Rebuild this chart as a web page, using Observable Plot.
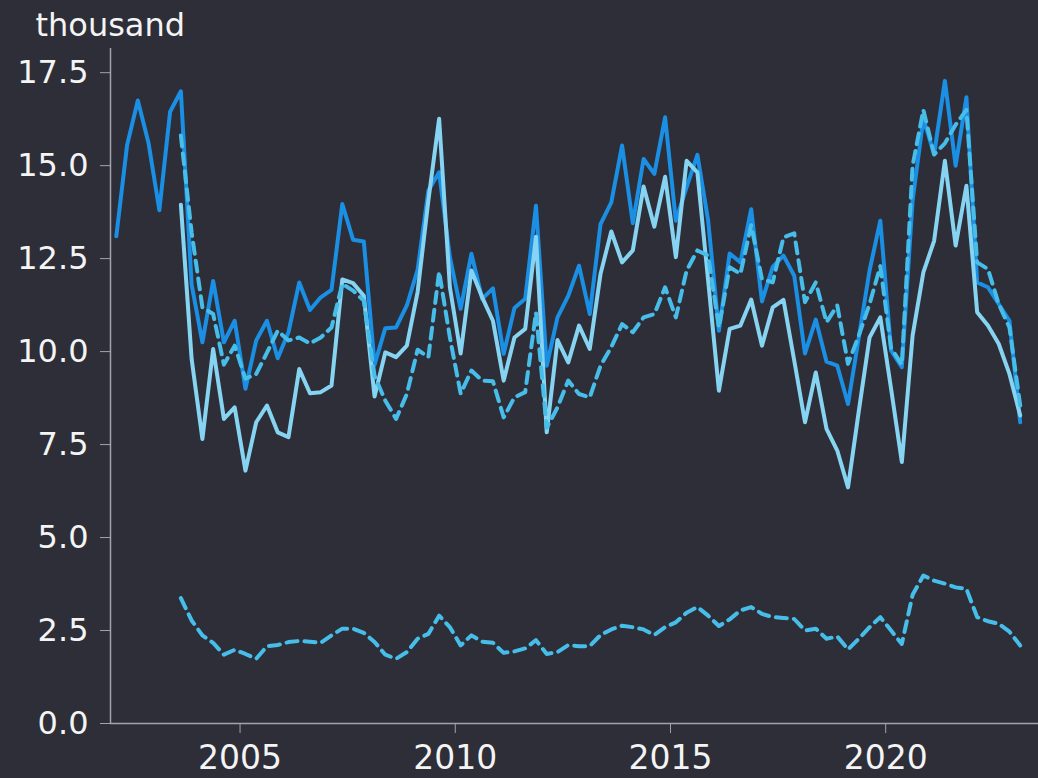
<!DOCTYPE html>
<html>
<head>
<meta charset="utf-8">
<script src="https://cdn.jsdelivr.net/npm/d3@7"></script>
<script src="https://cdn.jsdelivr.net/npm/@observablehq/plot@0.6"></script>
<style>
  html, body { margin: 0; padding: 0; background: #2d2e38; }
  #chart { width: 1038px; height: 778px; }
</style>
</head>
<body>
<div id="chart"></div>
<script>
// ---- data ----
const START_YEAR = 2002;          // first quarter: 2002 Q1
const N_QUARTERS = 85;            // 2002 Q1 .. 2023 Q1
const OTHER_START = 6;            // other series begin at 2003 Q3

const seriesA = [13.1, 15.55, 16.75, 15.6, 13.8, 16.45, 17.0, 11.8, 10.25, 11.9,
  10.25, 10.83, 9.0, 10.3, 10.83, 9.82, 10.52, 11.86, 11.12, 11.46,
  11.66, 13.97, 13.01, 12.96, 9.65, 10.63, 10.65, 11.24, 12.2, 14.33,
  14.82, 12.54, 11.15, 12.63, 11.42, 11.7, 9.94, 11.17, 11.42, 13.92,
  9.62, 10.92, 11.5, 12.31, 11.01, 13.43, 14.01, 15.54, 13.45, 15.18,
  14.78, 16.3, 13.52, 14.42, 15.29, 13.52, 10.56, 12.64, 12.4, 13.83,
  11.35, 12.28, 12.58, 12.04, 9.95, 10.86, 9.73, 9.62, 8.59, 10.38,
  12.18, 13.52, 10.03, 9.58, 14.06, 16.26, 15.31, 17.28, 15.0, 16.84,
  11.86, 11.73, 11.28, 10.83, 8.1];

const seriesB = [13.95, 9.8, 7.65, 10.07,
  8.19, 8.5, 6.8, 8.1, 8.55, 7.83, 7.7, 9.53, 8.88, 8.91,
  9.09, 11.94, 11.84, 11.5, 8.79, 9.98, 9.85, 10.16, 11.6, 14.06,
  16.26, 11.73, 9.95, 12.18, 11.46, 10.83, 9.22, 10.38, 10.61, 13.09,
  7.83, 10.31, 9.71, 10.7, 10.07, 12.09, 13.23, 12.4, 12.72, 14.44,
  13.36, 14.7, 12.54, 15.13, 14.82, 11.91, 8.95, 10.61, 10.7, 11.4,
  10.16, 11.19, 11.39, 9.76, 8.1, 9.44, 7.92, 7.34, 6.35, 8.4,
  10.38, 10.92, 9.0, 7.03, 10.43, 12.13, 12.98, 15.13, 12.85, 14.46,
  11.06, 10.7, 10.21, 9.4, 8.28];

const seriesC = [15.81, 13.2, 11.19, 11.01,
  9.65, 10.16, 9.27, 9.4, 9.97, 10.56, 10.3, 10.38, 10.22, 10.38,
  10.65, 11.82, 11.64, 11.37, 9.35, 8.68, 8.19, 8.86, 10.05, 9.85,
  12.15, 10.38, 8.87, 9.49, 9.22, 9.2, 8.23, 8.77, 8.91, 11.05,
  7.95, 8.5, 9.22, 8.86, 8.77, 9.62, 10.12, 10.74, 10.52, 10.92,
  11.01, 11.73, 10.92, 12.18, 12.72, 12.58, 10.65, 12.27, 12.09, 13.4,
  11.95, 11.86, 13.07, 13.18, 11.33, 11.86, 10.79, 11.24, 9.67, 10.43,
  11.28, 12.3, 10.1, 9.65, 15.0, 16.5, 15.3, 15.6, 16.1, 16.5,
  12.4, 12.22, 11.28, 10.65, 8.55];

const seriesD = [3.37, 2.77, 2.37, 2.17,
  1.85, 1.98, 1.87, 1.74, 2.08, 2.11, 2.19, 2.22, 2.2, 2.17,
  2.37, 2.55, 2.55, 2.44, 2.19, 1.85, 1.74, 1.92, 2.28, 2.41,
  2.9, 2.59, 2.1, 2.37, 2.2, 2.17, 1.9, 1.94, 2.02, 2.24,
  1.87, 1.92, 2.11, 2.08, 2.08, 2.38, 2.53, 2.63, 2.59, 2.53,
  2.38, 2.59, 2.72, 2.98, 3.13, 2.9, 2.62, 2.8, 3.04, 3.13,
  2.95, 2.86, 2.84, 2.81, 2.5, 2.55, 2.28, 2.34, 1.99, 2.28,
  2.59, 2.86, 2.5, 2.14, 3.46, 3.98, 3.84, 3.76, 3.66, 3.62,
  2.86, 2.75, 2.68, 2.47, 2.1];

const xTicks = [2005, 2010, 2015, 2020];
const yTicks = [0, 2.5, 5, 7.5, 10, 12.5, 15, 17.5];
const unitLabel = ["thousand"];

// ---- styling ----
const BG = "#2d2e38";
const AXIS = "#a3a3a8";
const TEXT = "#f4f4f4";
const C_DARK = "#1a8fe3";
const C_LIGHT = "#86d4f1";
const C_DASH = "#47bde9";
const X_DOMAIN = [2001.99, 2023.55];
const Y_DOMAIN = [0, 18.15];

// quarter mid-points as fractional years
const quarterX = Array.from({length: N_QUARTERS}, (_, i) => START_YEAR + Math.floor(i / 4) + (i % 4) / 4 + 0.125);
const toRows = (vals, offset) => vals.map((v, j) => ({x: quarterX[offset + j], y: v}));

const rowsA = toRows(seriesA, 0);
const rowsB = toRows(seriesB, OTHER_START);
const rowsC = toRows(seriesC, OTHER_START);
const rowsD = toRows(seriesD, OTHER_START);

const FONT = "'DejaVu Sans', sans-serif";

const chart = Plot.plot({
  width: 1038,
  height: 778,
  marginLeft: 110,
  marginRight: 0,
  marginTop: 48,
  marginBottom: 55,
  style: {background: BG, color: TEXT, fontFamily: FONT, fontSize: "32px"},
  x: {domain: X_DOMAIN},
  y: {domain: Y_DOMAIN},
  marks: [
    Plot.axisY({ticks: yTicks, tickFormat: ".1f", tickSize: 10, tickPadding: 12,
      stroke: AXIS, fill: TEXT, fontSize: 32, label: null}),
    Plot.axisX({ticks: xTicks, tickFormat: "d", tickSize: 10, tickPadding: 12,
      stroke: AXIS, fill: TEXT, fontSize: 33, label: null}),
    Plot.ruleY([Y_DOMAIN[0]], {stroke: AXIS, strokeWidth: 1.5}),
    Plot.ruleX([X_DOMAIN[0]], {stroke: AXIS, strokeWidth: 1.5}),
    Plot.text(unitLabel, {frameAnchor: "top-left", dx: -75, dy: -13, lineAnchor: "bottom",
      textAnchor: "start", fill: TEXT, fontSize: 32}),
    Plot.lineY(rowsD, {x: "x", y: "y", stroke: C_DASH, strokeWidth: 4, strokeDasharray: "11,7"}),
    Plot.lineY(rowsA, {x: "x", y: "y", stroke: C_DARK, strokeWidth: 4}),
    Plot.lineY(rowsB, {x: "x", y: "y", stroke: C_LIGHT, strokeWidth: 4}),
    Plot.lineY(rowsC, {x: "x", y: "y", stroke: C_DASH, strokeWidth: 4, strokeDasharray: "11,7"})
  ]
});
document.getElementById("chart").appendChild(chart);
</script>
</body>
</html>
